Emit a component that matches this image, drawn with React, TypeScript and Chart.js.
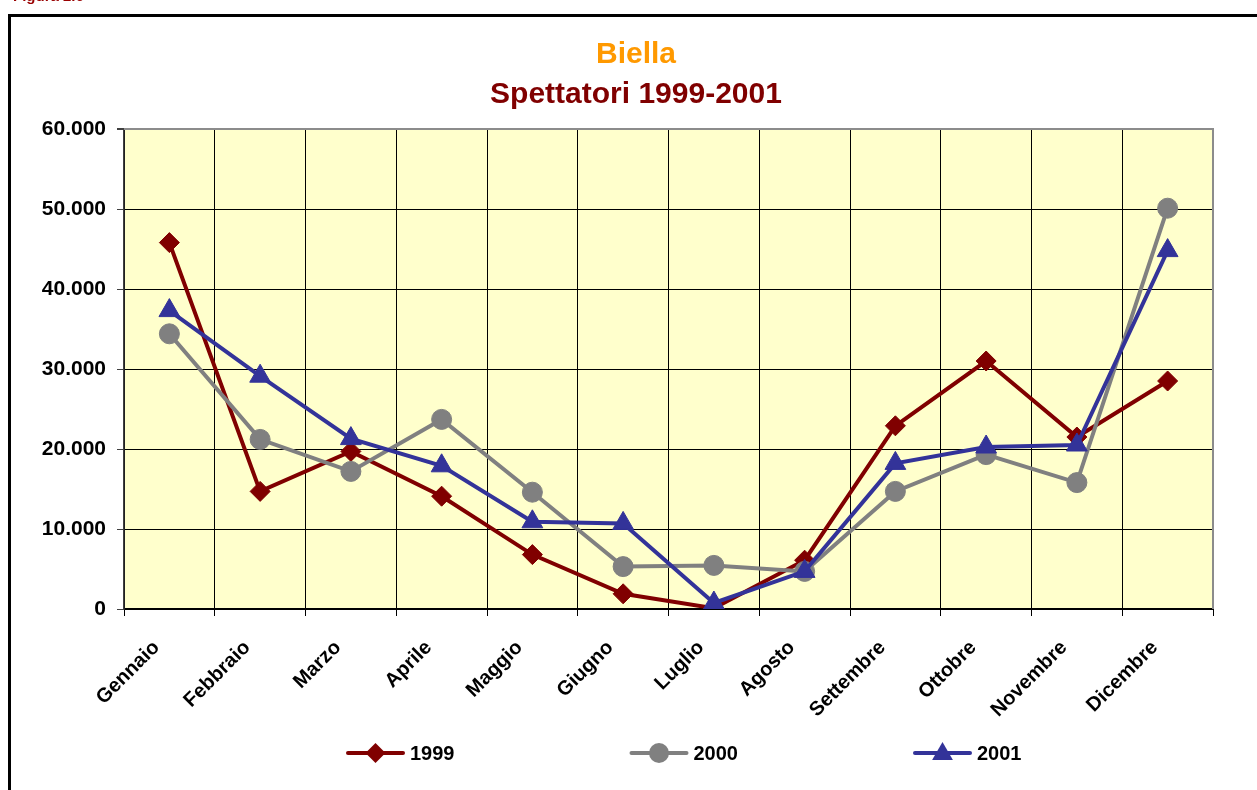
import React, { useEffect, useRef } from 'react';
import { Chart, registerables } from 'chart.js';

Chart.register(...registerables);

const figureLabel = 'Figura 2.6';
const titleText = 'Biella';
const subtitleText = 'Spettatori 1999-2001';

const categories = [
  'Gennaio', 'Febbraio', 'Marzo', 'Aprile', 'Maggio', 'Giugno',
  'Luglio', 'Agosto', 'Settembre', 'Ottobre', 'Novembre', 'Dicembre',
];

const seriesLabels = ['1999', '2000', '2001'];
const values1999 = [45800, 14700, 19700, 14100, 6800, 1900, 100, 6100, 22900, 31000, 21500, 28500];
const values2000 = [34400, 21200, 17200, 23700, 14600, 5300, 5450, 4700, 14700, 19300, 15800, 50100];
const values2001 = [37300, 29100, 21300, 17900, 10900, 10700, 750, 4700, 18200, 20250, 20500, 44800];

const yTicks = [0, 10000, 20000, 30000, 40000, 50000, 60000];

const seriesColors = ['#800000', '#808080', '#333399'];
const seriesMarkers = ['rectRot', 'circle', 'triangle'];

const FONT = "Arial, 'Liberation Sans', Helvetica, sans-serif";

const fmt = (v: number) => String(v).replace(/\B(?=(\d{3})+(?!\d))/g, '.');

function drawMarker(ctx: CanvasRenderingContext2D, style: string, x: number, y: number, color: string) {
  ctx.save();
  ctx.fillStyle = color;
  ctx.beginPath();
  if (style === 'rectRot') {
    const r = 10;
    ctx.moveTo(x - r, y);
    ctx.lineTo(x, y - r);
    ctx.lineTo(x + r, y);
    ctx.lineTo(x, y + r);
    ctx.closePath();
  } else if (style === 'circle') {
    ctx.arc(x, y, 10, 0, Math.PI * 2);
  } else {
    const r = 12;
    ctx.moveTo(x, y - r * 0.75 - 2);
    ctx.lineTo(x + r * 0.866, y + r * 0.75 - 2);
    ctx.lineTo(x - r * 0.866, y + r * 0.75 - 2);
    ctx.closePath();
  }
  ctx.fill();
  ctx.restore();
}

const plotBgPlugin = {
  id: 'plotBg',
  beforeDraw(chart: any) {
    const { ctx, chartArea } = chart;
    ctx.save();
    ctx.fillStyle = '#FFFFCC';
    ctx.fillRect(chartArea.left, chartArea.top, chartArea.right - chartArea.left, chartArea.bottom - chartArea.top);
    ctx.restore();
  },
  beforeDatasetsDraw(chart: any) {
    const { ctx, chartArea } = chart;
    ctx.save();
    ctx.strokeStyle = '#8c8c8c';
    ctx.lineWidth = 2;
    ctx.beginPath();
    ctx.moveTo(chartArea.left, chartArea.top);
    ctx.lineTo(chartArea.right, chartArea.top);
    ctx.lineTo(chartArea.right, chartArea.bottom);
    ctx.stroke();
    ctx.restore();
  },
};

const legendPlugin = {
  id: 'lineLegend',
  afterDraw(chart: any) {
    const { ctx, chartArea } = chart;
    const y = chart.height - 37;
    const step = 283.5;
    const lineLen = 55;
    chart.data.datasets.forEach((ds: any, i: number) => {
      const x0 = chartArea.left + 224 + i * step;
      ctx.save();
      ctx.strokeStyle = seriesColors[i];
      ctx.lineWidth = 4;
      ctx.lineCap = 'round';
      ctx.beginPath();
      ctx.moveTo(x0, y);
      ctx.lineTo(x0 + lineLen, y);
      ctx.stroke();
      drawMarker(ctx, seriesMarkers[i], x0 + lineLen / 2, y, seriesColors[i]);
      ctx.fillStyle = '#000';
      ctx.font = `bold 20px ${FONT}`;
      ctx.textAlign = 'left';
      ctx.textBaseline = 'middle';
      ctx.fillText(ds.label, x0 + lineLen + 7, y + 1);
      ctx.restore();
    });
  },
};

export default function App() {
  const canvasRef = useRef<HTMLCanvasElement | null>(null);

  useEffect(() => {
    if (!canvasRef.current) return;
    const seriesValues = [values1999, values2000, values2001];
    const chart = new Chart(canvasRef.current, {
      type: 'line',
      data: {
        labels: categories,
        datasets: seriesLabels.map((label, i) => ({
          label,
          data: seriesValues[i],
          borderColor: seriesColors[i],
          backgroundColor: seriesColors[i],
          borderWidth: 4,
          pointStyle: seriesMarkers[i] as any,
          pointRadius: i === 2 ? 12 : 10,
          pointBorderWidth: 1,
          pointBackgroundColor: seriesColors[i],
          pointBorderColor: seriesColors[i],
          tension: 0,
          fill: false,
          order: 3 - i,
          yAxisID: 'y',
        })),
      },
      options: {
        responsive: false,
        animation: false,
        events: [],
        layout: { padding: { top: 37, left: 20, right: 5, bottom: 60 } },
        plugins: {
          legend: { display: false },
          tooltip: { enabled: false },
          title: {
            display: true,
            text: titleText,
            color: '#FF9900',
            font: { family: FONT, size: 30, weight: 'bold' },
            padding: { top: 0, bottom: 4 },
          },
          subtitle: {
            display: true,
            text: subtitleText,
            color: '#800000',
            font: { family: FONT, size: 30, weight: 'bold' },
            padding: { top: 0, bottom: 16 },
          },
        },
        scales: {
          x: {
            type: 'category',
            offset: true,
            afterFit: (s: any) => { s.height = 121; },
            grid: {
              offset: true,
              color: (c: any) => (c.tick === undefined ? '#8c8c8c' : '#000000'),
              lineWidth: 1,
              tickColor: '#000000',
              tickLength: 7,
              drawTicks: true,
            },
            border: { display: true, color: '#000000', width: 2 },
            ticks: {
              color: '#000000',
              font: { family: FONT, size: 20, weight: 'bold' },
              minRotation: 45,
              maxRotation: 45,
              autoSkip: false,
              padding: 20,
              labelOffset: -13,
            },
          },
          y: {
            min: 0,
            max: 60000,
            afterFit: (s: any) => { s.width = 104; },
            afterBuildTicks: (s: any) => { s.ticks = yTicks.map((v) => ({ value: v })); },
            grid: {
              color: (c: any) => (c.tick && c.tick.value === 60000 ? '#8c8c8c' : '#000000'),
              lineWidth: (c: any) => (c.tick && c.tick.value === 60000 ? 2 : 1),
              tickColor: '#404040',
              tickLength: 7,
            },
            border: { display: true, color: '#404040', width: 1.5 },
            ticks: {
              color: '#000000',
              font: { family: FONT, size: 21, weight: 'bold' },
              padding: 11,
              callback: (v: any) => fmt(Number(v)),
            },
          },
          yRight: {
            position: 'right',
            min: 0,
            max: 60000,
            afterFit: (s: any) => { s.width = 39; },
            grid: { display: false, drawTicks: false },
            border: { display: false },
            ticks: { display: false },
          },
        },
      },
      plugins: [plotBgPlugin, legendPlugin],
    } as any);
    return () => chart.destroy();
  }, []);

  return (
    <div style={{ position: 'fixed', left: 0, top: 0, width: 1257, height: 790, overflow: 'hidden', background: '#ffffff' }}>
      <canvas ref={canvasRef} width={1257} height={790} style={{ position: 'absolute', left: 0, top: 0 }} />
      <div
        style={{
          position: 'absolute', left: 13, top: -12, fontFamily: FONT, fontWeight: 'bold',
          fontSize: 15, lineHeight: '15px', color: '#990000', whiteSpace: 'nowrap',
        }}
      >
        {figureLabel}
      </div>
      <div
        style={{
          position: 'absolute', left: 8, top: 14, width: 1300, height: 800,
          border: '3px solid #000', boxSizing: 'border-box', pointerEvents: 'none',
        }}
      />
    </div>
  );
}
